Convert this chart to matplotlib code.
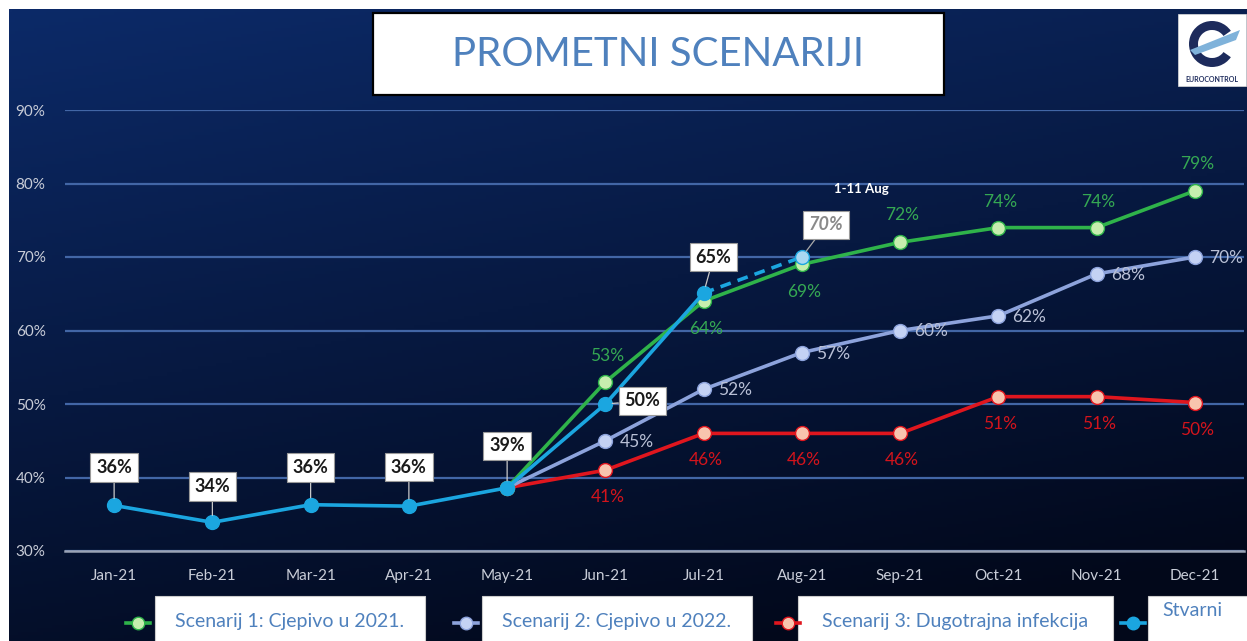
import matplotlib
matplotlib.use('Agg')
import matplotlib.pyplot as plt
import numpy as np
from matplotlib.patches import Rectangle, Wedge, Polygon
from matplotlib.lines import Line2D

# ---------------- data ----------------
months = ['Jan-21', 'Feb-21', 'Mar-21', 'Apr-21', 'May-21', 'Jun-21',
          'Jul-21', 'Aug-21', 'Sep-21', 'Oct-21', 'Nov-21', 'Dec-21']
actual = [36.2, 33.9, 36.3, 36.1, 38.6, 50.0, 65.1]          # Jan..Jul
actual_partial = 70.0                                          # Aug (1-11 Aug)
scenario_start = 4                                             # May-21
scenario1 = [38.6, 53, 64, 69, 72, 74, 74, 79]                # May..Dec
scenario2 = [38.6, 45, 52, 57, 60, 62, 67.7, 70]
scenario3 = [38.6, 41, 46, 46, 46, 51, 51, 50.2]
y_ticks = [30, 40, 50, 60, 70, 80, 90]
legend_labels = ['Scenarij 1: Cjepivo u 2021.', 'Scenarij 2: Cjepivo u 2022.',
                 'Scenarij 3: Dugotrajna infekcija', 'Stvarni']
title = 'PROMETNI SCENARIJI'
partial_note = '1-11 Aug'

plt.rcParams['font.family'] = ['Lato', 'DejaVu Sans']

W, H = 1247, 641
fig = plt.figure(figsize=(W / 100, H / 100), dpi=100, facecolor='white')

# background gradient
bg = fig.add_axes([9 / W, 0, 1 - 9 / W, (H - 9) / H])
ny, nx = 200, 400
yy, xx = np.mgrid[0:1:ny * 1j, 0:1:nx * 1j]
t = np.clip(0.8 * yy + 0.3 * xx, 0, 1)
top = np.array([12, 42, 104]) / 255
bot = np.array([2, 8, 26]) / 255
grad = top[None, None, :] * (1 - t[..., None]) + bot[None, None, :] * t[..., None]
bg.imshow(grad, aspect='auto', extent=[0, 1, 0, 1], origin='upper')
bg.axis('off')

# main axes
ax = fig.add_axes([65 / W, (H - 551) / H, (1244 - 65) / W, (551 - 110) / H])
ax.set_facecolor('none')
ax.set_xlim(-0.5, 11.5)
ax.set_ylim(30, 90)
ax.set_yticks(y_ticks)
ax.set_yticklabels([f'{v}%' for v in y_ticks])
ax.set_xticks(range(len(months)))
ax.set_xticklabels(months)
ax.tick_params(length=0, labelcolor='#c9cdd8', labelsize=11)
ax.tick_params(axis='y', pad=14)
ax.tick_params(axis='x', pad=13)
for s in ['top', 'right', 'left']:
    ax.spines[s].set_visible(False)
ax.spines['bottom'].set_color('#9aa3b5')
ax.spines['bottom'].set_linewidth(1.8)
ax.yaxis.grid(True, color='#4266a6', lw=1.6)
ax.set_axisbelow(True)

xs = list(range(scenario_start, scenario_start + len(scenario1)))

c_red, c_lav, c_green, c_blue = '#e0161e', '#8da3dc', '#2fb34a', '#1ba6e0'
ax.plot(xs, scenario3, color=c_red, lw=2.6, marker='o', ms=10,
        mfc='#f8c4ae', mec=c_red, mew=1.0, zorder=3)
ax.plot(xs, scenario2, color=c_lav, lw=2.6, marker='o', ms=10,
        mfc='#c4d2f4', mec=c_lav, mew=1.0, zorder=4)
ax.plot(xs, scenario1, color=c_green, lw=2.6, marker='o', ms=10,
        mfc='#c6eeae', mec=c_green, mew=1.0, zorder=5)
ax.plot([len(actual) - 1, len(actual)], [actual[-1], actual_partial],
        color=c_blue, lw=2.6, ls=(0, (3, 2)), zorder=6)
ax.plot(range(len(actual)), actual, color=c_blue, lw=2.6, marker='o', ms=10,
        mfc=c_blue, mec=c_blue, zorder=7)
ax.plot([len(actual)], [actual_partial], marker='o', ms=10, mfc='#a9d8f2',
        mec=c_blue, ls='none', zorder=7)

# scenario labels
s1_off = [None, 26, -28, -28, 27, 26, 26, 27]
for i, (x, v) in enumerate(zip(xs, scenario1)):
    if s1_off[i] is None:
        continue
    ax.annotate(f'{v:.0f}%', (x, v), xytext=(2, s1_off[i]), textcoords='offset pixels',
                ha='center', va='center', color='#35a853', fontsize=12.5, zorder=8)
for i, (x, v) in enumerate(zip(xs, scenario2)):
    if i == 0:
        continue
    ax.annotate(f'{v:.0f}%', (x, v), xytext=(14, -1), textcoords='offset pixels',
                ha='left', va='center', color='#b9c0d6', fontsize=12.5, zorder=8)
for i, (x, v) in enumerate(zip(xs, scenario3)):
    if i == 0:
        continue
    ax.annotate(f'{v:.0f}%', (x, v), xytext=(2, -27), textcoords='offset pixels',
                ha='center', va='center', color='#d3141c', fontsize=12.5, zorder=8)

# actual labels
act_off = [(0, 38), (0, 36), (0, 37), (0, 39), (0, 42), (37, 3), (10, 36)]
box = dict(boxstyle='square,pad=0.32', fc='white', ec='#999999', lw=0.8)
for i, v in enumerate(actual):
    dx, dy = act_off[i]
    ax.annotate(f'{v:.0f}%', (i, v), xytext=(dx, dy), textcoords='offset pixels',
                ha='center', va='center', fontsize=13, fontweight='bold',
                color='#1a1a1a', zorder=10, bbox=box,
                arrowprops=dict(arrowstyle='-', color='#c8c8c8', lw=0.9,
                                shrinkA=0, shrinkB=5))
ax.annotate(f'{actual_partial:.0f}%', (len(actual), actual_partial), xytext=(24, 32),
            textcoords='offset pixels', ha='center', va='center', fontsize=13,
            fontstyle='italic', fontweight='bold', color='#8a8a8a', zorder=10,
            bbox=box,
            arrowprops=dict(arrowstyle='-', color='#aaaaaa', lw=0.9, shrinkA=0, shrinkB=5))
ax.annotate(partial_note, (len(actual), actual_partial), xytext=(60, 68),
            textcoords='offset pixels', ha='center', va='center', fontsize=9.5,
            fontweight='bold', color='white', zorder=10)

# overlay in pixel coordinates
ov = fig.add_axes([0, 0, 1, 1])
ov.set_xlim(0, W)
ov.set_ylim(H, 0)
ov.axis('off')
ov.patch.set_alpha(0)

ov.add_patch(Rectangle((373, 13), 571, 82, fc='white', ec='black', lw=1.6))
ov.text(658, 55, title, ha='center', va='center', fontsize=29, color='#4f81bd')

# logo
ov.add_patch(Rectangle((1178, 14), 68, 72, fc='white', ec='#dddddd', lw=0.5))
ov.add_patch(Wedge((1212, 44), 23, 35, 325, width=9, fc='#1d2b5c', ec='none'))
ov.add_patch(Polygon([[1190, 50], [1240, 30], [1236, 40], [1195, 55]],
                     closed=True, fc='#7fb2da', ec='none'))
ov.text(1212, 80, 'EUROCONTROL', ha='center', va='center', fontsize=5,
        fontweight='bold', color='#1d2b5c')

# legend
legend_boxes = [(155, 425), (482, 752), (798, 1113), (1148, 1250)]
legend_mx = [138, 466, 788, 1133]
legend_styles = [(c_green, '#c6eeae'), (c_lav, '#c4d2f4'), (c_red, '#f8c4ae'),
                 (c_blue, c_blue)]
for (x0, x1), mx, (lc, mf), lab in zip(legend_boxes, legend_mx, legend_styles,
                                      legend_labels):
    ov.add_line(Line2D([mx - 12, mx + 12], [623, 623], color=lc, lw=2.6))
    ov.add_line(Line2D([mx], [623], marker='o', ms=9, mfc=mf, mec=lc, color=lc))
    ov.add_patch(Rectangle((x0, 596), x1 - x0, 50, fc='white', ec='#cccccc', lw=0.8))
    if lab == 'Stvarni':
        ov.text(x0 + 14, 611, lab, ha='left', va='center', fontsize=14, color='#4f81bd')
    else:
        ov.text((x0 + x1) / 2, 621, lab, ha='center', va='center', fontsize=14,
                color='#4f81bd')

fig.savefig('out.png', dpi=100, facecolor='white')
